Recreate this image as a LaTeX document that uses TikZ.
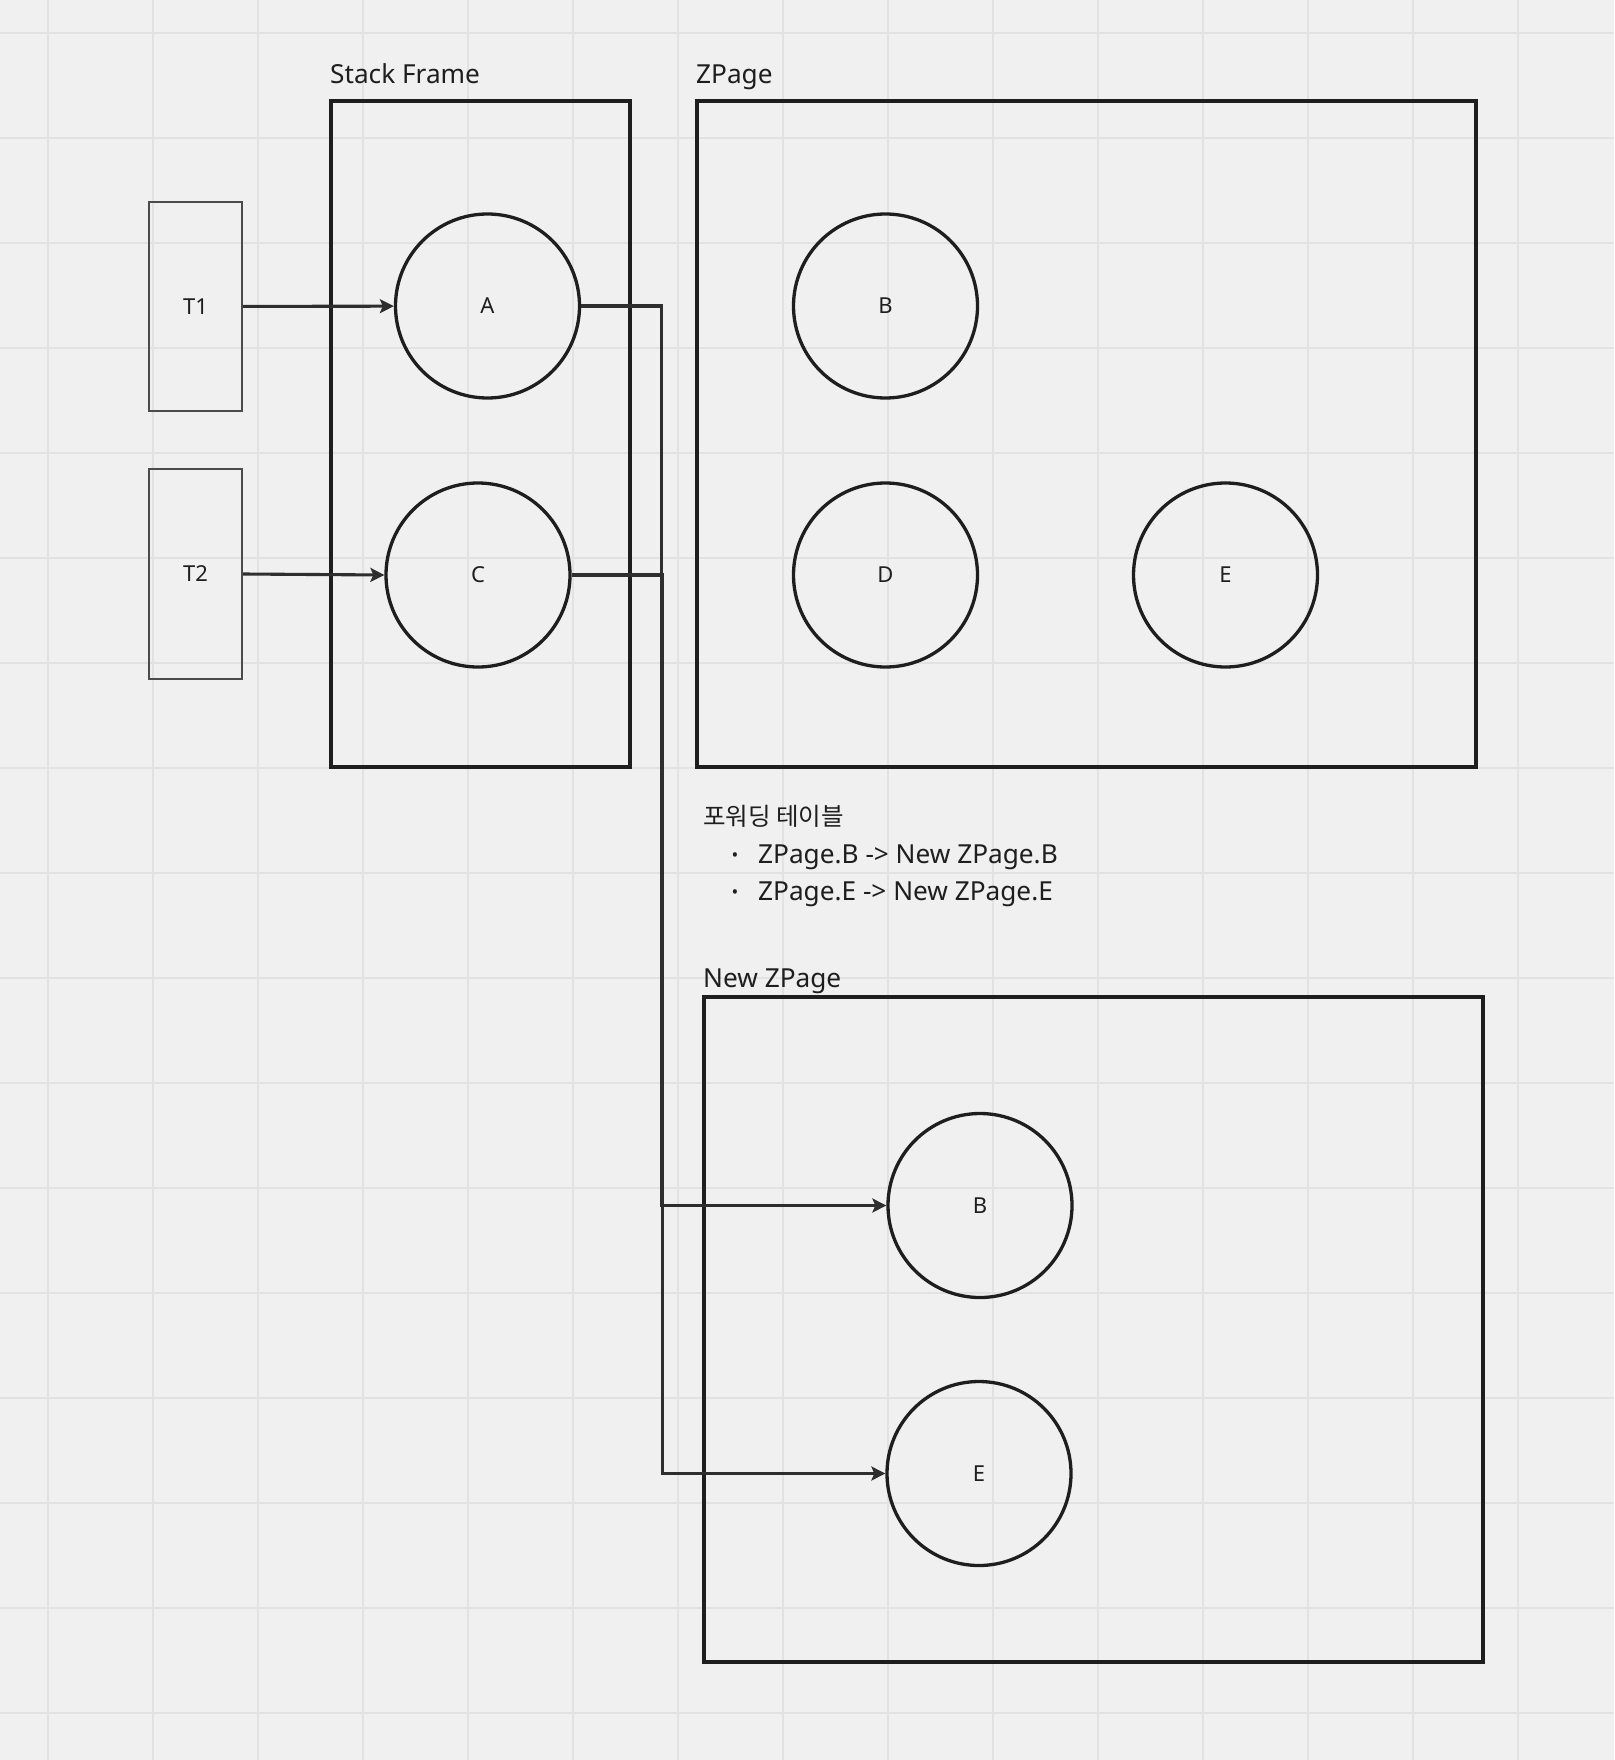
\documentclass[tikz,border=0pt]{standalone}
\usepackage{fontspec}
\setmainfont{Noto Sans}
\newfontfamily\kofont{Noto Sans CJK KR}
\usepackage{tikz}
\usetikzlibrary{arrows.meta}
\definecolor{bgcol}{HTML}{F0F0F0}
\definecolor{gridcol}{HTML}{E2E2E2}
\definecolor{inkcol}{HTML}{1E1E1E}
\definecolor{linkcol}{HTML}{2E2E2E}

\begin{document}
\begin{tikzpicture}[x=1pt,y=-1pt,
  obj/.style={circle,draw=inkcol,line width=3.3pt,minimum size=184pt,inner sep=0pt,font=\fontsize{22}{26}\selectfont,text=inkcol},
  thr/.style={rectangle,draw=inkcol!80,line width=1.6pt,minimum width=93pt,minimum height=209pt,inner sep=0pt,font=\fontsize{22}{26}\selectfont,text=inkcol},
  area/.style={rectangle,draw=inkcol,line width=3.7pt,inner sep=0pt},
  ttl/.style={anchor=base west,inner sep=0pt,font=\fontsize{26.2}{31}\selectfont,text=inkcol},
  a/.style={-{Stealth[length=14pt,width=14pt,inset=3pt]},line width=3.1pt,linkcol}]
% --- canvas and grid ---
\fill[bgcol] (0,0) rectangle (1614,1760);
\useasboundingbox (0,0) rectangle (1614,1760);
\foreach \i in {0,...,14} \draw[gridcol,line width=1.3pt] (48+105*\i,0) -- (48+105*\i,1760);
\foreach \j in {0,...,16} \draw[gridcol,line width=1.3pt] (0,33+105*\j) -- (1614,33+105*\j);
% --- frames ---
\node[area,minimum width=299pt,minimum height=666pt] (sf) at (480.5,434) {};
\node[area,minimum width=779pt,minimum height=666pt] (zp) at (1086.5,434) {};
\node[area,minimum width=779pt,minimum height=665pt] (nzp) at (1093.5,1329.5) {};
\node[ttl] (sft) at (330,84) {Stack Frame};
\node[ttl] (zpt) at (696,84) {ZPage};
\node[ttl] (nzpt) at (703,987) {New ZPage};
% --- forwarding table ---
\node[anchor=base west,inner sep=0pt,font=\kofont\fontsize{24.5}{29}\selectfont,text=inkcol] (fwd) at (703,825) {포워딩 테이블};
\node[anchor=base,inner sep=0pt,font=\fontsize{18}{20}\selectfont,text=inkcol] (d1) at (735,861) {•};
\node[anchor=base,inner sep=0pt,font=\fontsize{18}{20}\selectfont,text=inkcol] (d2) at (735,898) {•};
\node[ttl] (f1) at (758,863) {ZPage.B -> New ZPage.B};
\node[ttl] (f2) at (758,900) {ZPage.E -> New ZPage.E};
% --- threads ---
\node[thr] (t1) at (195.5,306.5) {T1};
\node[thr,minimum height=210pt] (t2) at (195.5,574) {T2};
% --- objects ---
\node[obj] (A) at (487.5,306) {A};
\node[obj] (C) at (478,575) {C};
\node[obj] (B) at (885.5,306) {B};
\node[obj] (D) at (885.5,575) {D};
\node[obj] (E) at (1225.5,575) {E};
\node[obj] (nB) at (980,1205.5) {B};
\node[obj] (nE) at (979,1473.5) {E};
% --- references ---
\draw[a] (t1) -- (A);
\draw[a] (t2.east) -- (C.west);
\draw[a] (A.east) -- ++(80,0) |- (nB.west);
\draw[a] (C.east) -- ++(91,0) |- (nE.west);
\end{tikzpicture}
\end{document}
